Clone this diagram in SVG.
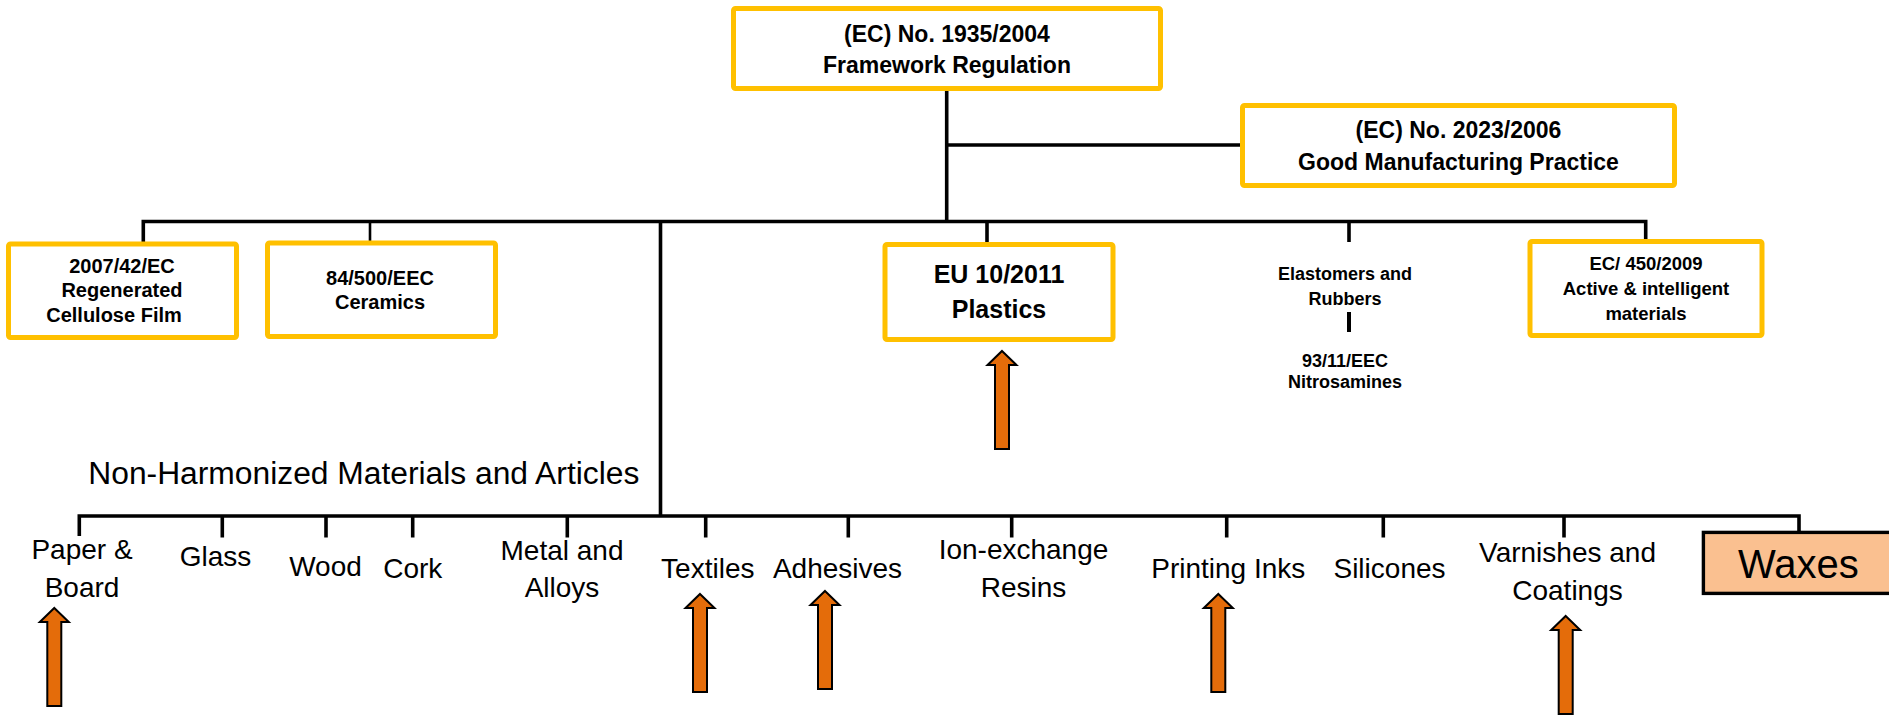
<svg xmlns="http://www.w3.org/2000/svg" width="1889" height="715" viewBox="0 0 1889 715">
<style>
.box{fill:#fff;stroke:#FFC000;stroke-width:5}
.ln{stroke:#000;stroke-width:3.6;fill:none;stroke-linecap:butt}
.bt{font-family:"Liberation Sans",Arial,sans-serif;font-weight:bold;fill:#000;text-anchor:middle}
.rt{font-family:"Liberation Sans",Arial,sans-serif;font-size:28px;fill:#000;text-anchor:middle}
.arr{fill:#E46C0A;stroke:#000;stroke-width:2}
</style>
<defs>
<path id="arrow" class="arr" d="M0,0 L14.5,14 L7,14 L7,98 L-7,98 L-7,14 L-14.5,14 Z"/>
</defs>
<rect width="1889" height="715" fill="#fff"/>
<g id="connectors">
<path class="ln" d="M946.7,91 V221"/>
<path class="ln" d="M946.7,145 H1241"/>
<path class="ln" d="M143.3,243 V221.5 H1645.7 V240"/>
<path class="ln" d="M370,221.5 V244" style="stroke-width:2.6"/>
<path class="ln" d="M987,221.5 V243"/>
<path class="ln" d="M1349,221.5 V242"/>
<path class="ln" d="M1349,312 V332" style="stroke-width:4"/>
<path class="ln" d="M660.5,221.5 V516"/>
<path class="ln" d="M79.3,536 V516 H1799 V537"/>
<path class="ln" d="M222.3,516 V537.5"/>
<path class="ln" d="M326,516 V537.5"/>
<path class="ln" d="M412.7,516 V537.5"/>
<path class="ln" d="M567.3,516 V537.5"/>
<path class="ln" d="M705.7,516 V537.5"/>
<path class="ln" d="M848.3,516 V537.5"/>
<path class="ln" d="M1011.7,516 V537.5"/>
<path class="ln" d="M1226.7,516 V537.5"/>
<path class="ln" d="M1383.3,516 V537.5"/>
<path class="ln" d="M1564,516 V537.5"/>
</g>
<g id="framework">
<rect class="box" x="733.5" y="8.5" width="427" height="80" rx="2"/>
<text class="bt" font-size="23" x="947" y="42">(EC) No. 1935/2004</text>
<text class="bt" font-size="23" x="947" y="73">Framework Regulation</text>
</g>
<g id="gmp">
<rect class="box" x="1242.5" y="105.5" width="432" height="80" rx="2"/>
<text class="bt" font-size="23" x="1458.5" y="138">(EC) No. 2023/2006</text>
<text class="bt" font-size="23" x="1458.5" y="170">Good Manufacturing Practice</text>
</g>
<g id="cellulose">
<rect class="box" x="8.5" y="244" width="228" height="93.5" rx="2"/>
<text class="bt" font-size="20" x="122" y="273.3">2007/42/EC</text>
<text class="bt" font-size="20" x="122" y="297">Regenerated</text>
<text class="bt" font-size="20" x="114" y="321.7">Cellulose Film</text>
</g>
<g id="ceramics">
<rect class="box" x="267.5" y="243" width="228" height="93.5" rx="2"/>
<text class="bt" font-size="20" x="380" y="285">84/500/EEC</text>
<text class="bt" font-size="20" x="380" y="309">Ceramics</text>
</g>
<g id="plastics">
<rect class="box" x="885" y="244.5" width="228" height="95" rx="2"/>
<text class="bt" font-size="25" x="999" y="283.3">EU 10/2011</text>
<text class="bt" font-size="25" x="999" y="318.3">Plastics</text>
</g>
<g id="elastomers">
<text class="bt" font-size="18" x="1345" y="280">Elastomers and</text>
<text class="bt" font-size="18" x="1345" y="305">Rubbers</text>
</g>
<g id="nitrosamines">
<text class="bt" font-size="18" x="1345" y="366.5">93/11/EEC</text>
<text class="bt" font-size="18" x="1345" y="388">Nitrosamines</text>
</g>
<g id="active">
<rect class="box" x="1530" y="241.5" width="232" height="94" rx="2"/>
<text class="bt" font-size="18.5" x="1646" y="270">EC/ 450/2009</text>
<text class="bt" font-size="18.5" x="1646" y="295">Active &amp; intelligent</text>
<text class="bt" font-size="18.5" x="1646" y="320">materials</text>
</g>
<g id="nonharmonized">
<text x="88.3" y="484.3" font-family="Liberation Sans, Arial, sans-serif" font-size="31" textLength="551" lengthAdjust="spacingAndGlyphs" fill="#000">Non-Harmonized Materials and Articles</text>
</g>
<g id="paper"><text class="rt" x="82" y="559.3">Paper &amp;</text><text class="rt" x="82" y="597.3">Board</text></g>
<g id="glass"><text class="rt" x="215.5" y="566">Glass</text></g>
<g id="wood"><text class="rt" x="325.5" y="576">Wood</text></g>
<g id="cork"><text class="rt" x="412.8" y="577.7">Cork</text></g>
<g id="metal"><text class="rt" x="562" y="560">Metal and</text><text class="rt" x="562" y="597">Alloys</text></g>
<g id="textiles"><text class="rt" x="707.8" y="577.7">Textiles</text></g>
<g id="adhesives"><text class="rt" x="837.5" y="577.7">Adhesives</text></g>
<g id="ionexchange"><text class="rt" x="1023.5" y="559">Ion-exchange</text><text class="rt" x="1023.5" y="597">Resins</text></g>
<g id="printing"><text class="rt" x="1228.3" y="577.7">Printing Inks</text></g>
<g id="silicones"><text class="rt" x="1389.5" y="577.7">Silicones</text></g>
<g id="varnishes"><text class="rt" x="1567.5" y="562">Varnishes and</text><text class="rt" x="1567.5" y="600.3">Coatings</text></g>
<g id="waxes">
<rect x="1703.4" y="532.4" width="190" height="61" fill="#FAC090" stroke="#000" stroke-width="3.4"/>
<text x="1798.3" y="578.3" font-family="Liberation Sans, Arial, sans-serif" font-size="40" fill="#000" text-anchor="middle">Waxes</text>
</g>
<g id="arrows">
<use href="#arrow" x="54.3" y="608"/>
<use href="#arrow" x="1002" y="351"/>
<use href="#arrow" x="700" y="594"/>
<use href="#arrow" x="825" y="591"/>
<use href="#arrow" x="1218.3" y="594"/>
<use href="#arrow" x="1565.7" y="616"/>
</g>
</svg>
